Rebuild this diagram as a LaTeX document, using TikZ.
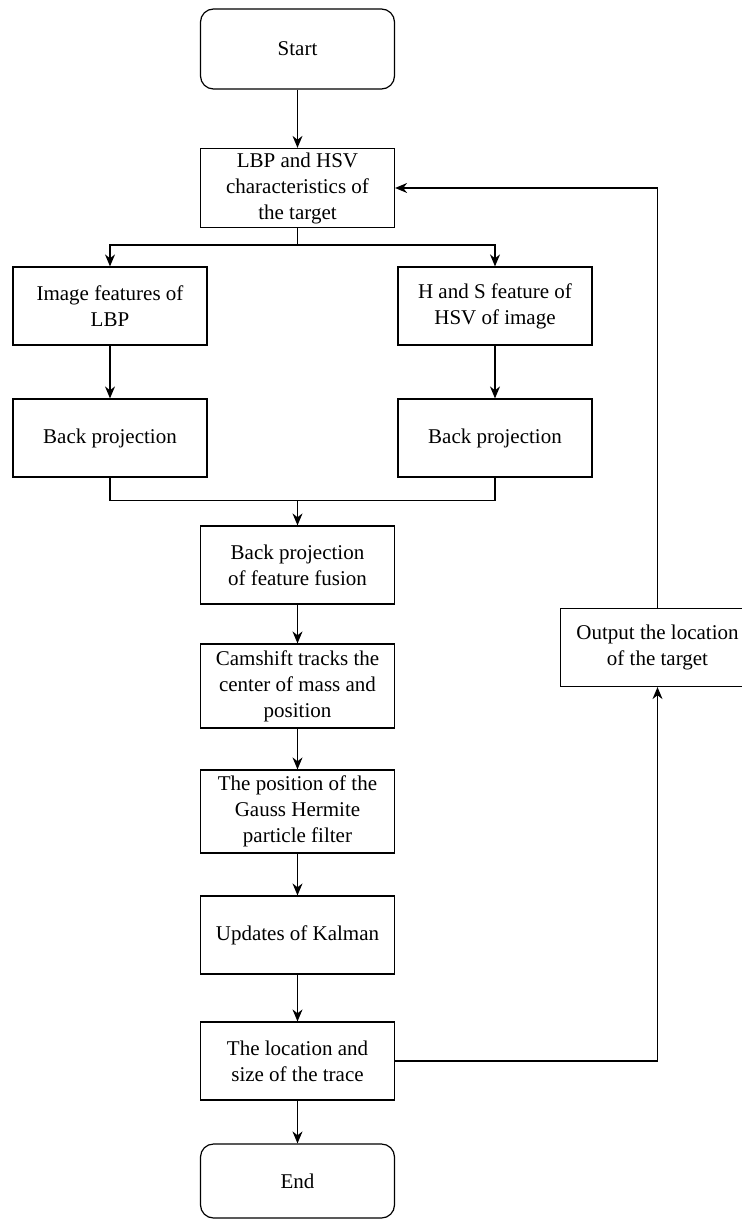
\documentclass[tikz,border=0pt]{standalone}
\usepackage{fontspec}
\setmainfont{Liberation Serif}
\usetikzlibrary{arrows.meta}
\begin{document}
\begin{tikzpicture}[x=0.5pt,y=-0.5pt,line width=0.6pt,
    font=\fontsize{10.5}{13}\selectfont,
    box/.style={draw,align=center,inner sep=2pt,minimum width=97pt,minimum height=39pt},
    term/.style={box,rounded corners=6.5pt,minimum height=40pt},
    arr/.style={-{Stealth[length=6pt,width=5pt]}}]
    \useasboundingbox (0,0) rectangle (741,1219);

    % main column
    \node[term] (start) at (297.5,49) {Start};
    \node[box] (target) at (297.5,188) {LBP and HSV\\characteristics of\\the target};
    \node[box] (lbpfeat) at (110,306) {Image features of\\LBP};
    \node[box] (hsvfeat) at (495,306) {H and S feature of\\HSV of image};
    \node[box] (backl) at (110,438) {Back projection};
    \node[box] (backr) at (495,438) {Back projection};
    \node[box] (fusion) at (297.5,565) {Back projection\\of feature fusion};
    \node[box,minimum height=42pt] (camshift) at (297.5,686) {Camshift tracks the\\center of mass and\\position};
    \node[box,minimum height=41.5pt] (gauss) at (297.5,811.5) {The position of the\\Gauss Hermite\\particle filter};
    \node[box] (kalman) at (297.5,935) {Updates of Kalman};
    \node[box] (trace) at (297.5,1061) {The location and\\size of the trace};
    \node[term,minimum height=37pt] (end) at (297.5,1181) {End};
    % feedback box
    \node[box] (output) at (657.5,647.5) {Output the location\\of the target};

    \coordinate (split) at (297.5,245);
    \coordinate (join) at (297.5,500.5);

    \draw[arr] (start) -- (target);
    \draw (target) -- (split);
    \draw[arr] (split) -| (lbpfeat.north);
    \draw[arr] (split) -| (hsvfeat.north);
    \draw[arr] (lbpfeat) -- (backl);
    \draw[arr] (hsvfeat) -- (backr);
    \draw (backl.south) |- (join) -| (backr.south);
    \draw[arr] (join) -- (fusion);
    \draw[arr] (fusion) -- (camshift);
    \draw[arr] (camshift) -- (gauss);
    \draw[arr] (gauss) -- (kalman);
    \draw[arr] (kalman) -- (trace);
    \draw[arr] (trace) -- (end);
    \draw[arr] (trace.east) -| (output.south);
    \draw[arr] (output.north) |- (target.east);
\end{tikzpicture}
\end{document}
